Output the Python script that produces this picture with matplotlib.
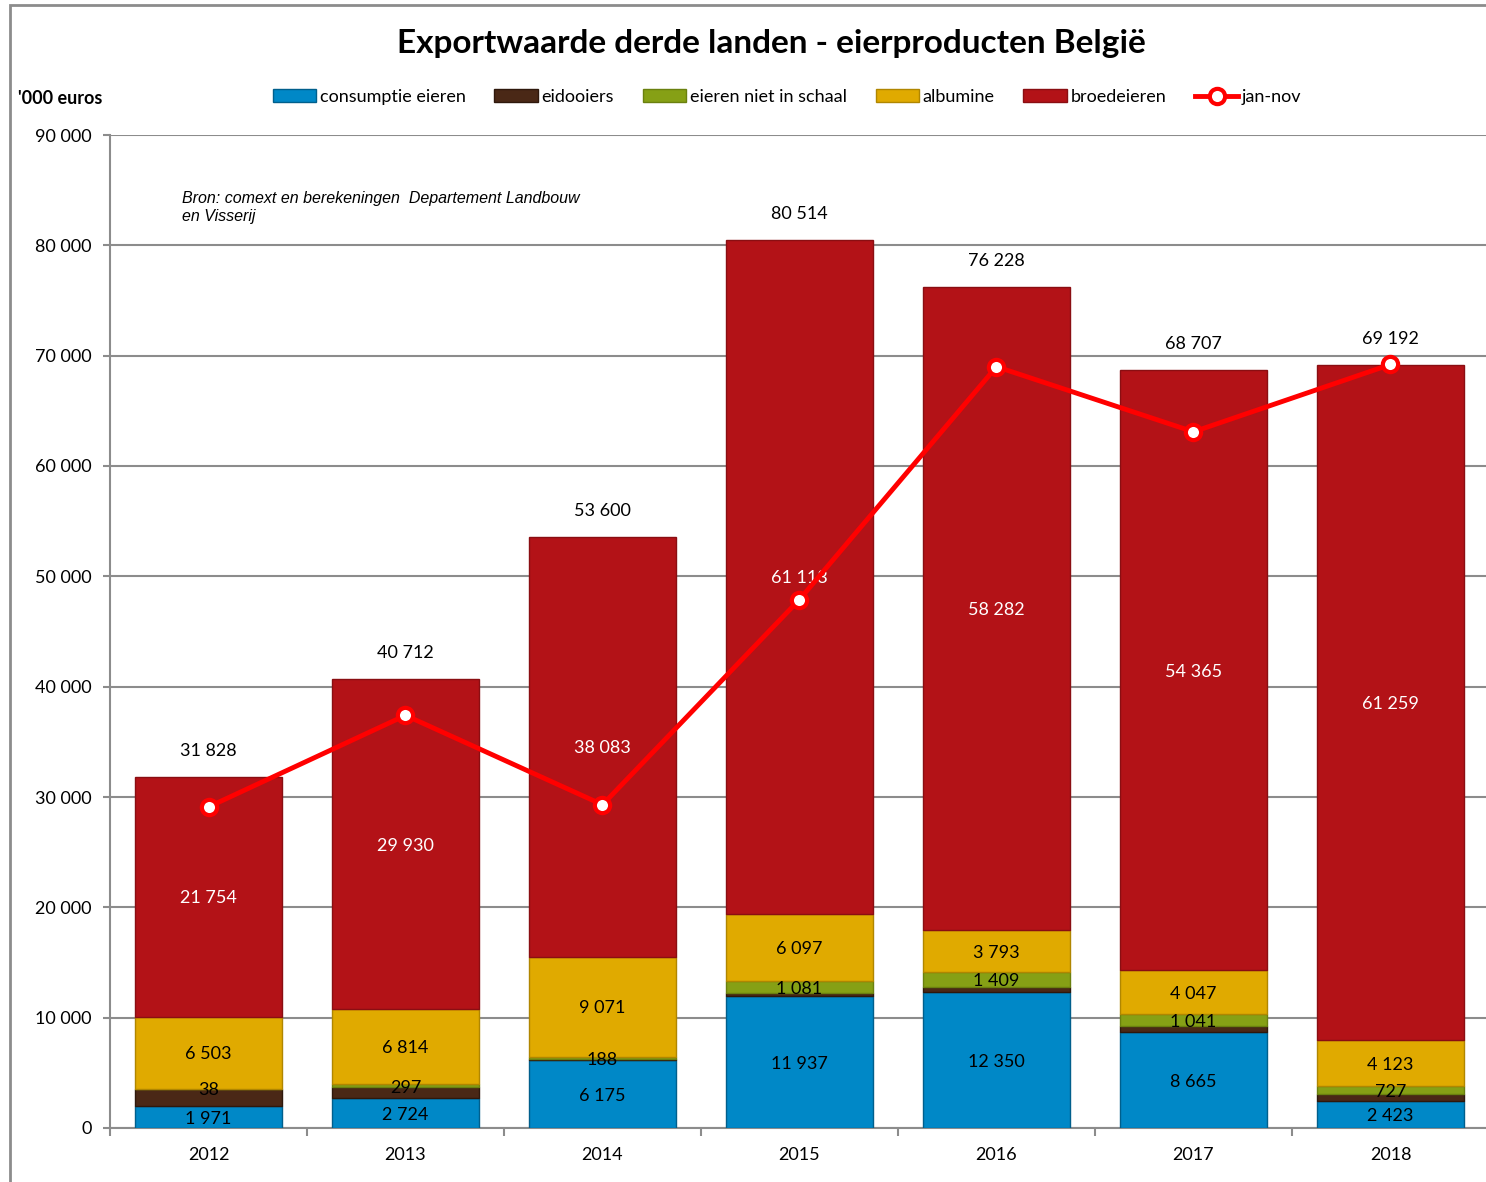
import matplotlib
matplotlib.use("Agg")
import matplotlib.pyplot as plt
import numpy as np
from matplotlib.patches import Rectangle
from matplotlib.lines import Line2D

plt.rcParams['font.family'] = ['Lato', 'DejaVu Sans']

years = ["2012", "2013", "2014", "2015", "2016", "2017", "2018"]
consumptie = [1971, 2724, 6175, 11937, 12350, 8665, 2423]
eidooiers = [1562, 947, 83, 286, 394, 589, 660]
niet_in_schaal = [38, 297, 188, 1081, 1409, 1041, 727]
albumine = [6503, 6814, 9071, 6097, 3793, 4047, 4123]
broedeieren = [21754, 29930, 38083, 61113, 58282, 54365, 61259]
totaal = [31828, 40712, 53600, 80514, 76228, 68707, 69192]
jan_nov = [29100, 37400, 29300, 47900, 69000, 63100, 69200]

series = [
    ("consumptie eieren", consumptie, "#0088C7", "#005F8C", "black", True),
    ("eidooiers", eidooiers, "#4A2816", "#2E180C", "black", False),
    ("eieren niet in schaal", niet_in_schaal, "#86A015", "#6A800F", "black", True),
    ("albumine", albumine, "#E0AA00", "#B08600", "black", True),
    ("broedeieren", broedeieren, "#B31217", "#8A0E12", "white", True),
]

def fmt(v):
    return "{:,}".format(v).replace(",", " ")

fig = plt.figure(figsize=(14.86, 11.82), dpi=100)
ax = fig.add_axes([110 / 1486, 54 / 1182, 1379 / 1486, 993 / 1182])

x = np.arange(len(years))
bottom = np.zeros(len(years))
handles = []
for name, vals, col, edge, tcol, show in series:
    vals = np.array(vals)
    ax.bar(x, vals, 0.75, bottom=bottom, color=col, edgecolor=edge, linewidth=1, zorder=3)
    if show:
        for i, v in enumerate(vals):
            ax.text(x[i], bottom[i] + v / 2 - 150, fmt(int(v)), ha="center", va="center",
                    fontsize=13, color=tcol, zorder=5)
    bottom = bottom + vals
    handles.append(Rectangle((0, 0), 1, 1, facecolor=col, edgecolor=edge, linewidth=1))

for i, t in enumerate(totaal):
    ax.text(x[i], t + 1600, fmt(t), ha="center", va="bottom", fontsize=13, color="black", zorder=5)

ax.plot(x, jan_nov, color="#FF0000", lw=3.5, marker="o", markersize=11,
        markerfacecolor="white", markeredgecolor="#FF0000", markeredgewidth=3, zorder=6)
handles.append(Line2D([], [], color="#FF0000", lw=3.5, marker="o", markersize=11,
                      markerfacecolor="white", markeredgecolor="#FF0000", markeredgewidth=3))

ax.set_xlim(-0.5, 6.5)
ax.set_ylim(0, 90000)
ax.set_yticks(np.arange(0, 90001, 10000))
ax.set_yticklabels([fmt(v) for v in range(0, 90001, 10000)], fontsize=13)
ax.yaxis.grid(True, color="#8C8C8C", lw=1.5, zorder=0)
ax.set_xticks(x)
ax.set_xticklabels(years, fontsize=13)
ax.set_xticks(np.arange(-0.5, 7, 1), minor=True)
ax.tick_params(axis="x", which="major", length=0, pad=14)
ax.tick_params(axis="x", which="minor", length=6, color="#8C8C8C", width=1.5)
ax.tick_params(axis="y", length=5, color="#8C8C8C", width=1.5, pad=8)
for s in ["top", "right"]:
    ax.spines[s].set_visible(False)
for s in ["left", "bottom"]:
    ax.spines[s].set_color("#8C8C8C")
    ax.spines[s].set_linewidth(1.5)

fig.text(0.5 * (393 + 1150) / 1486, 1 - 44 / 1182, "Exportwaarde derde landen - eierproducten België",
         ha="center", va="center", fontsize=24, fontweight="bold")
fig.text(18 / 1486, 1 - 99 / 1182, "'000 euros", ha="left", va="center", fontsize=13, fontweight="bold")
ax.text(182 / 1486, 1 - 207 / 1182, "Bron: comext en berekeningen  Departement Landbouw\nen Visserij",
        transform=fig.transFigure, ha="left", va="center", fontsize=11.5, style="italic",
        family="Liberation Sans", linespacing=1.25)

fig.legend(handles, [s[0] for s in series] + ["jan-nov"], loc="center",
           bbox_to_anchor=(787 / 1486, 1 - 97 / 1182), ncol=6, frameon=False, fontsize=13,
           handlelength=2.4, handleheight=0.7, handletextpad=0.2, columnspacing=1.6)

fig.add_artist(Rectangle((10 / 1486, -0.1), 1.2, 1 - 5 / 1182 + 0.1, transform=fig.transFigure,
                         fill=False, edgecolor="#8C8C8C", lw=2))

fig.savefig("out.png", dpi=100)
